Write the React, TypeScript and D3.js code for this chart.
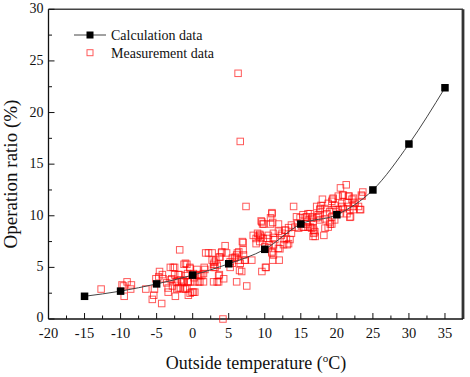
import React from "react";
import * as d3 from "d3";

const calcTemp = [-15, -10, -5, 0, 5, 10, 15, 20, 25, 30, 35];
const calcRatio = [2.2, 2.7, 3.4, 4.25, 5.35, 6.75, 9.2, 10.1, 12.5, 16.95, 22.4];

const measured: [number, number][] = [
  [-12.7,2.9],[-9.5,2.2],[-9.8,3.3],[-9.1,3.6],[-8.5,3.3],[-8.6,2.9],[-9.6,3.2],
  [-6.5,2.9],[-5.6,1.9],[-5.4,2.3],[-5.3,2.9],[-5.1,3.9],[-4.6,4.6],[-4.7,4.1],[-4.3,1.5],[-4.2,4.3],[-4.1,3.9],
  [-3.6,3.5],[-3.4,2.6],[-3.4,3.0],[-3.1,5.0],[-3.0,3.8],[-2.9,3.9],[-2.8,3.2],[-2.5,5.0],[-2.5,4.3],[-2.4,2.2],
  [-2.2,3.6],[-2.2,2.9],[-2.0,3.0],[-2.0,4.3],[-1.8,6.7],[-1.8,4.3],[-1.5,3.6],[-1.3,2.9],[-1.2,5.3],[-1.0,4.2],
  [-1.0,5.4],[-0.8,5.3],[-0.7,3.6],[-0.6,2.3],[-0.4,5.0],[-0.3,3.6],[-0.1,2.6],[-1.7,3.0],[-1.3,3.7],[-0.8,3.0],
  [-0.7,4.4],[-2.7,5.0],[-2.4,3.6],[-1.7,3.8],[-1.2,3.6],[-0.6,3.6],[-1.0,2.9],[-0.35,2.5],[-0.35,4.9],
  [0.3,2.6],[0.3,3.6],[0.6,4.8],[0.8,4.2],[1.0,3.6],[1.25,4.2],[1.5,3.6],[1.6,5.0],[1.8,6.4],[1.5,4.4],[0.1,4.4],
  [0.7,4.3],[1.0,4.3],[0.8,3.6],[1.7,4.8],[2.7,6.4],[2.9,5.3],[2.9,3.6],[3.1,5.0],[3.2,5.7],[3.4,3.6],[3.6,4.2],
  [3.8,6.0],[4.0,6.4],[4.3,3.9],[4.2,0.0],[4.5,7.1],[4.7,6.4],[2.9,5.0],[3.4,5.2],[3.6,3.6],[3.7,4.3],[2.2,6.4],
  [2.7,5.7],[3.0,5.5],[3.7,6.0],[4.05,6.5],[0.1,2.6],[0.2,4.0],
  [5.2,5.0],[5.5,5.4],[5.9,6.0],[6.1,3.6],[6.2,6.4],[6.3,23.8],[6.5,4.7],[6.6,17.2],[6.9,7.5],[7.0,6.7],[7.2,5.7],
  [7.4,10.9],[7.5,3.2],[8.2,5.7],[8.4,8.1],[8.8,7.8],[9.4,8.1],[9.5,9.5],[9.6,4.6],[9.85,9.2],[5.2,5.55],[5.5,5.9],
  [6.1,6.2],[6.35,5.7],[6.6,5.4],[6.8,4.6],[6.4,6.5],[7.05,6.2],[7.3,5.7],[9.0,8.3],[9.3,8.2],[9.5,7.9],[9.6,9.4],
  [9.7,9.2],[9.1,8.0],[9.8,7.8],[9.3,7.5],[8.8,7.3],[7.0,7.4],[5.8,5.9],
  [10.1,5.0],[10.3,7.8],[10.6,7.2],[10.8,9.8],[11.0,10.2],[11.1,5.7],[11.0,6.4],[11.2,8.3],[11.4,7.7],[11.9,9.2],
  [12.0,5.7],[12.1,6.8],[12.4,8.3],[12.7,7.7],[12.9,8.6],[13.1,7.2],[13.5,7.7],[13.7,8.3],[14.0,10.9],[14.2,8.9],
  [14.4,9.9],[14.9,9.8],[10.8,9.2],[11.0,10.3],[11.1,9.35],[10.5,8.1],[11.2,7.9],[11.9,8.5],[12.3,8.1],[12.8,8.6],
  [13.3,8.85],[13.7,9.1],[13.0,7.8],[13.3,7.3],[12.6,7.2],[11.9,6.85],[11.2,7.2],[11.0,6.5],[11.2,6.2],[10.2,5.0],
  [10.5,6.9],[10.0,7.0],
  [15.4,8.9],[15.8,9.9],[16.3,10.2],[16.5,8.8],[16.8,8.3],[17.0,8.0],[17.5,9.9],[17.8,11.0],[18.0,11.6],[18.2,8.1],
  [18.6,10.2],[18.8,11.2],[19.1,9.2],[19.4,11.6],[19.7,9.6],[19.9,10.6],[20.2,11.9],[20.5,12.7],[20.7,10.9],[20.9,12.0],
  [21.3,13.0],[21.5,10.9],[21.6,11.9],[21.9,9.9],[22.1,11.6],[22.3,10.6],[22.5,11.2],[23.0,10.9],[23.3,10.6],[23.4,12.0],
  [23.6,12.3],[15.3,10.1],[16.0,10.2],[16.5,9.75],[17.2,9.8],[17.7,10.7],[16.8,8.6],[16.3,8.9],[15.8,9.2],[19.5,11.7],
  [20.8,12.0],[21.7,11.9],[22.3,11.7],[19.3,11.4],[18.35,10.7],[19.7,11.0],[20.7,11.2],[21.4,11.3],[22.5,11.3],[23.2,10.6],
  [22.3,10.9],[21.8,10.6],[20.9,10.7],[20.2,10.6],[19.5,10.6],[19.0,10.4],[17.65,10.6],[17.2,10.9],[17.4,10.1],[16.7,9.9],
  [19.3,9.9],[20.4,10.2],[21.4,10.2],[21.8,9.85],[17.65,9.6],[18.35,9.7],[19.0,9.4],[15.6,9.85],[15.9,9.4],[16.7,9.4],
  [15.3,8.9],[16.0,8.9],[16.7,8.85],[16.95,8.45],[18.35,8.8],[18.8,8.9],[19.3,9.2],[16.7,8.0],[14.5,9.3],[14.7,8.8],[23.5,11.9]
];

const xTicks = [-20, -15, -10, -5, 0, 5, 10, 15, 20, 25, 30, 35];
const yTicks = [0, 5, 10, 15, 20, 25, 30];

export default function App() {
  const left = 48.5, right = 463, top = 9.3, bottom = 319;
  const x = d3.scaleLinear().domain([-20, 37.5]).range([left, right]);
  const y = d3.scaleLinear().domain([0, 30]).range([bottom, top]);
  const line = d3.line<number>()
    .x((_, i) => x(calcTemp[i]))
    .y((d) => y(d))
    .curve(d3.curveMonotoneX);
  const xMinor = d3.range(-17.5, 37.5, 5);
  const yMinor = d3.range(2.5, 30, 5);
  const font = "'Liberation Serif', 'Times New Roman', serif";
  const ms = 6.5;
  const cs = 7.5;
  return (
    <div style={{ position: "absolute", left: 0, top: 0 }}>
      <svg width={470} height={377} style={{ display: "block", background: "#fff" }} fontFamily={font}>
        {/* frame */}
        <line x1={left} x2={right} y1={top} y2={top} stroke="#444" strokeWidth={1.5} />
        <line x1={right} x2={right} y1={top} y2={bottom} stroke="#333" strokeWidth={2.8} />
        <line x1={left} x2={left} y1={top} y2={bottom} stroke="#111" strokeWidth={1.3} />
        <line x1={left} x2={right} y1={bottom} y2={bottom} stroke="#111" strokeWidth={1.3} />
        {/* x ticks */}
        {xTicks.map((t) => (
          <g key={"xt" + t}>
            <line x1={x(t)} x2={x(t)} y1={bottom} y2={bottom - 6} stroke="#111" strokeWidth={1} />
            <text x={x(t)} y={bottom + 18.5} textAnchor="middle" fontSize={14.5} fill="#111">{t}</text>
          </g>
        ))}
        {xMinor.map((t) => (
          <line key={"xm" + t} x1={x(t)} x2={x(t)} y1={bottom} y2={bottom - 3.5} stroke="#111" strokeWidth={1} />
        ))}
        {/* y ticks */}
        {yTicks.map((t) => (
          <g key={"yt" + t}>
            <line x1={left} x2={left + 6} y1={y(t)} y2={y(t)} stroke="#111" strokeWidth={1} />
            <text x={left - 5} y={y(t) + (t === 0 ? 2.5 : 4)} textAnchor="end" fontSize={14} fill="#111">{t}</text>
          </g>
        ))}
        {yMinor.map((t) => (
          <line key={"ym" + t} x1={left} x2={left + 3.5} y1={y(t)} y2={y(t)} stroke="#111" strokeWidth={1} />
        ))}
        {/* measurement */}
        {measured.map(([t, r], i) => (
          <rect key={"m" + i} x={x(t) - ms / 2} y={y(r) - ms / 2} width={ms} height={ms}
            fill="none" stroke="#ff0000" strokeOpacity={0.65} strokeWidth={1} />
        ))}
        {/* calculation */}
        <path d={line(calcRatio) || ""} fill="none" stroke="#444" strokeWidth={1} />
        {calcRatio.map((r, i) => (
          <rect key={"c" + i} x={x(calcTemp[i]) - cs / 2} y={y(r) - cs / 2} width={cs} height={cs} fill="#000" />
        ))}
        {/* legend */}
        <line x1={74} x2={106} y1={35} y2={35} stroke="#444" strokeWidth={1} />
        <rect x={90 - 3.5} y={35 - 3.5} width={7} height={7} fill="#000" />
        <text x={111} y={40} fontSize={14} fill="#111">Calculation data</text>
        <rect x={90 - 3} y={52.7 - 3} width={6} height={6} fill="none" stroke="#ff0000" strokeOpacity={0.65} strokeWidth={1} />
        <text x={111} y={58} fontSize={14} fill="#111">Measurement data</text>
        {/* axis titles */}
        <text x={256} y={369} textAnchor="middle" fontSize={18} fill="#111">
          Outside temperature (<tspan dy={-7} fontSize={11}>o</tspan><tspan dy={7}>C)</tspan>
        </text>
        <text transform="translate(17,174) rotate(-90)" textAnchor="middle" fontSize={19} fill="#111">
          Operation ratio (%)
        </text>
      </svg>
    </div>
  );
}
